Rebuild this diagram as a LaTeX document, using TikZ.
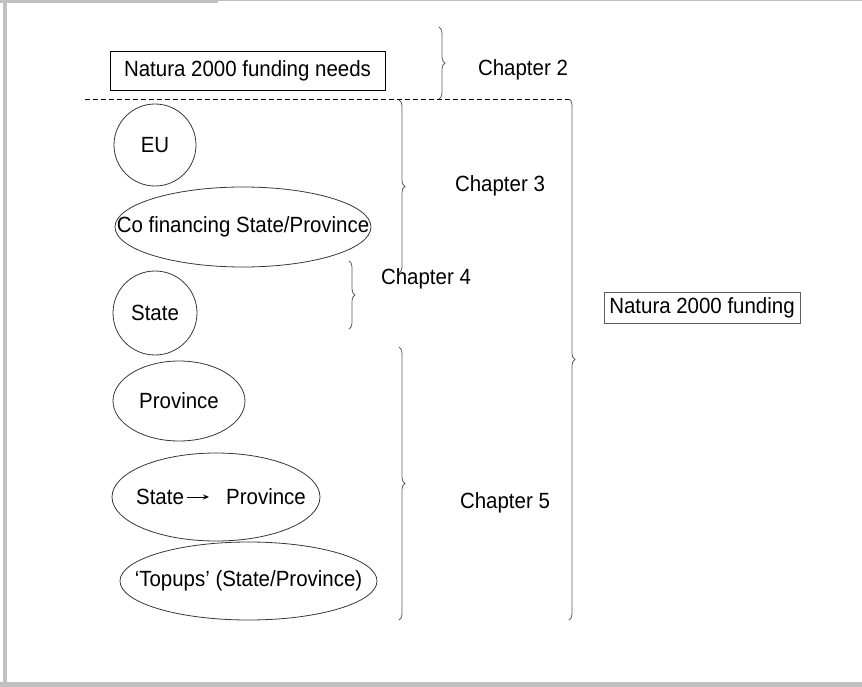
\documentclass[tikz,border=0pt]{standalone}
\usepackage{fontspec}
\setmainfont{Liberation Sans}[FakeStretch=0.93]
\usetikzlibrary{shapes.geometric,decorations.pathreplacing,arrows.meta}
\definecolor{cadre}{RGB}{192,192,192}
\definecolor{trait}{RGB}{55,55,55}
\definecolor{accol}{RGB}{95,95,95}

\begin{document}
\begin{tikzpicture}[x=1pt,y=-1pt,
	font=\fontsize{22}{26}\selectfont,
	bulle/.style={draw=trait,line width=0.8pt,ellipse,inner sep=0pt},
	rond/.style={draw=trait,line width=0.8pt,circle,inner sep=0pt},
	boite/.style={draw,line width=0.8pt,inner sep=0pt},
	accolade/.style={draw=accol,line width=0.8pt,decorate,
		decoration={brace,amplitude=6pt,aspect=0.5}},
	titre/.style={inner sep=0pt}]

			\useasboundingbox (0,0) rectangle (862,687);

			% cadre
			\fill[cadre] (3,0) rectangle (7,687);
			\fill[cadre] (0,0) rectangle (218,3);
			\fill[cadre] (218,0) rectangle (862,1.5);
			\fill[cadre] (0,682) rectangle (862,687);

			% besoins
			\node[boite, minimum width=275, minimum height=39] (needs) at (247.5,70.5) {Natura 2000 funding needs};
			\node[titre] (ch2) at (523,70) {Chapter 2};

			% separation
			\coordinate (sepg) at (85,99);
			\coordinate (sepd) at (572,99);
			\draw[dash pattern=on 5pt off 3pt, line width=0.8pt] (sepg) -- (sepd);

			% sources
			\node[rond, minimum size=82] (eu) at (155,145) {EU};
			\node[bulle, minimum width=256, minimum height=80,
				label={center:Co financing State/Province}] (cofin) at (243,227) {};
			\node[rond, minimum size=84] (state) at (155,313) {State};
			\node[bulle, minimum width=132, minimum height=80] (prov) at (179,401) {Province};
			\node[bulle, minimum width=208, minimum height=88] (stprov) at (216,497) {};
			\node[titre] (st) at (160,497) {State};
			\node[titre] (pv) at (266,497) {Province};
			\draw[line width=0.8pt, -{Stealth[length=6pt,width=5pt]}, shorten <=3pt, shorten >=17pt] (st) -- (pv);
			\node[bulle, minimum width=257, minimum height=78,
				label={center:`Topups' (State/Province)}] (topups) at (248.5,581) {};

			% chapitres
			\node[titre] (ch3) at (500,186) {Chapter 3};
			\node[titre] (ch4) at (426,279) {Chapter 4};
			\node[titre] (ch5) at (505,503) {Chapter 5};
			\node[boite, draw=accol, minimum width=196, minimum height=31] (funding) at (702,307.5) {Natura 2000 funding};

			% accolades
			\coordinate (h2) at (439,27);  \coordinate (b2) at (439,99);
			\coordinate (h3) at (399,100); \coordinate (b3) at (399,273);
			\coordinate (h4) at (349,261); \coordinate (b4) at (349,329);
			\coordinate (h5) at (399,347); \coordinate (b5) at (399,620);
			\coordinate (hn) at (569,99);  \coordinate (bn) at (569,620);
			\foreach \h/\b in {h2/b2,h3/b3,h4/b4,h5/b5,hn/bn} {
				\draw[accolade] (\h) -- (\b);
			}
		\end{tikzpicture}
\end{document}
